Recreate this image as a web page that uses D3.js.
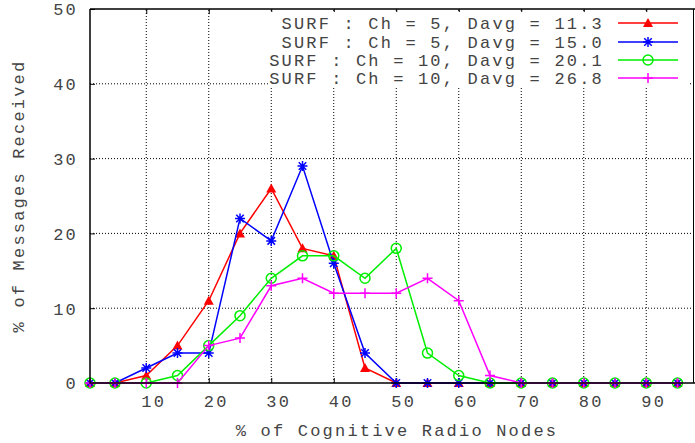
<!DOCTYPE html>
<html><head><meta charset="utf-8">
<script src="https://cdn.jsdelivr.net/npm/d3@7"></script>
<style>
body{margin:0;background:#fff;}
svg{display:block;}
text{font-family:"Liberation Mono","Courier New",monospace;fill:#444;}
</style></head>
<body><svg id="c" width="695" height="443"></svg>
<script>
const xVals = [1,5,10,15,20,25,30,35,40,45,50,55,60,65,70,75,80,85,90,95];
const seriesNames = [
  "SURF : Ch = 5, Davg = 11.3",
  "SURF : Ch = 5, Davg = 15.0",
  "SURF : Ch = 10, Davg = 20.1",
  "SURF : Ch = 10, Davg = 26.8"
];
const redVals     = [0,0,1,5,11,20,26,18,17,2,0,0,0,0,0,0,0,0,0,0];
const blueVals    = [0,0,2,4,4,22,19,29,16,4,0,0,0,0,0,0,0,0,0,0];
const greenVals   = [0,0,0,1,5,9,14,17,17,14,18,4,1,0,0,0,0,0,0,0];
const magentaVals = [0,0,0,0,5,6,13,14,12,12,12,14,11,1,0,0,0,0,0,0];
const colors = ["#ff0000","#0000ff","#00ee00","#ff00ff"];
const markers = ["triangle","star","circle","plus"];
const xTicks = [10,20,30,40,50,60,70,80,90];
const yTicks = [0,10,20,30,40,50];
const xLabel = "% of Cognitive Radio Nodes";
const yLabel = "% of Messages Received";

const svg = d3.select("#c");
const L=90, R=695, T=9, B=383;
const x = d3.scaleLinear().domain([1,97.8]).range([L,R]);
const y = d3.scaleLinear().domain([0,50]).range([B,T]);

// grid
const grid = svg.append("g");
grid.selectAll(".gx").data(xTicks).enter().append("line")
  .attr("x1",d=>x(d)).attr("x2",d=>x(d)).attr("y1",B).attr("y2",T)
  .attr("stroke","#000").attr("stroke-width",1).attr("stroke-dasharray","1,2");
grid.selectAll(".gy").data(yTicks.filter(d=>d>0&&d<50)).enter().append("line")
  .attr("x1",L).attr("x2",R).attr("y1",d=>y(d)).attr("y2",d=>y(d))
  .attr("stroke","#000").attr("stroke-width",1).attr("stroke-dasharray","1,2");

// axes
const fs = 17, ls = 2.2;
const gx = svg.append("g").attr("transform",`translate(0,${B})`)
  .call(d3.axisBottom(x).tickValues(xTicks).tickSizeInner(-5).tickSizeOuter(0).tickFormat(d3.format("d")));
gx.select(".domain").remove();
gx.selectAll("line").attr("stroke","#000");
gx.selectAll("text").attr("y",18).attr("dy","0.35em").attr("dx",7)
  .style("font-size",fs+"px").style("letter-spacing",ls+"px").attr("fill","#444");

const gxt = svg.append("g").attr("transform",`translate(0,${T})`)
  .call(d3.axisTop(x).tickValues(xTicks).tickSizeInner(-5).tickSizeOuter(0).tickFormat(""));
gxt.select(".domain").remove();
gxt.selectAll("line").attr("stroke","#000");

const gy = svg.append("g").attr("transform",`translate(${L},0)`)
  .call(d3.axisLeft(y).tickValues(yTicks).tickSizeInner(-5).tickSizeOuter(0).tickFormat(d3.format("d")));
gy.select(".domain").remove();
gy.selectAll("line").attr("stroke","#000");
gy.selectAll("text").attr("x",-12).attr("dy","0.35em")
  .style("font-size",fs+"px").style("letter-spacing",ls+"px").attr("fill","#444");

// series
const allVals = [redVals,blueVals,greenVals,magentaVals];
const line = d3.line().x((d,i)=>x(xVals[i])).y(d=>y(d));
function drawMarker(g,type,cx,cy,color){
  if(type==="triangle"){
    g.append("path").attr("d",`M${cx},${cy-5}L${cx+5},${cy+4}L${cx-5},${cy+4}Z`).attr("fill",color);
  } else if(type==="star"){
    const s=5;
    g.append("path").attr("d",`M${cx-s},${cy}H${cx+s}M${cx},${cy-s}V${cy+s}M${cx-s*0.75},${cy-s*0.75}L${cx+s*0.75},${cy+s*0.75}M${cx-s*0.75},${cy+s*0.75}L${cx+s*0.75},${cy-s*0.75}`)
      .attr("stroke",color).attr("stroke-width",1.5).attr("fill","none");
  } else if(type==="circle"){
    g.append("circle").attr("cx",cx).attr("cy",cy).attr("r",5).attr("stroke",color).attr("stroke-width",1.5).attr("fill","none");
  } else {
    const s=5;
    g.append("path").attr("d",`M${cx-s},${cy}H${cx+s}M${cx},${cy-s}V${cy+s}`).attr("stroke",color).attr("stroke-width",1.5).attr("fill","none");
  }
}
allVals.forEach((vals,k)=>{
  const g = svg.append("g");
  g.append("path").datum(vals).attr("d",line).attr("fill","none").attr("stroke",colors[k]).attr("stroke-width",1.5);
  vals.forEach((v,i)=>drawMarker(g,markers[k],x(xVals[i]),y(v),colors[k]));
});

// border
svg.append("path").attr("d",`M${L},${T}H${R}M${L},${T}V${B}H${R}`).attr("fill","none").attr("stroke","#000").attr("stroke-width",1.5);
svg.append("line").attr("x1",693.5).attr("x2",693.5).attr("y1",T).attr("y2",B).attr("stroke","#000").attr("stroke-width",1);

// legend
const legY = [23,42,60,78];
const lg = svg.append("g");
lg.append("rect").attr("x",268).attr("y",12).attr("width",420).attr("height",76).attr("fill","#fff");
seriesNames.forEach((n,k)=>{
  lg.append("text").attr("x",604).attr("y",legY[k]).attr("dy","0.35em").attr("text-anchor","end")
    .style("font-size",fs+"px").style("letter-spacing",ls+"px").text(n);
  lg.append("line").attr("x1",618).attr("x2",678).attr("y1",legY[k]).attr("y2",legY[k]).attr("stroke",colors[k]).attr("stroke-width",1.5);
  drawMarker(lg,markers[k],648,legY[k],colors[k]);
});

// labels
svg.append("text").attr("x",397).attr("y",430).attr("dy","0.35em").attr("text-anchor","middle")
  .style("font-size",fs+"px").style("letter-spacing",ls+"px").text(xLabel);
svg.append("text").attr("transform","translate(18,196) rotate(-90)").attr("dy","0.35em").attr("text-anchor","middle")
  .style("font-size",fs+"px").style("letter-spacing",ls+"px").text(yLabel);
</script></body></html>
